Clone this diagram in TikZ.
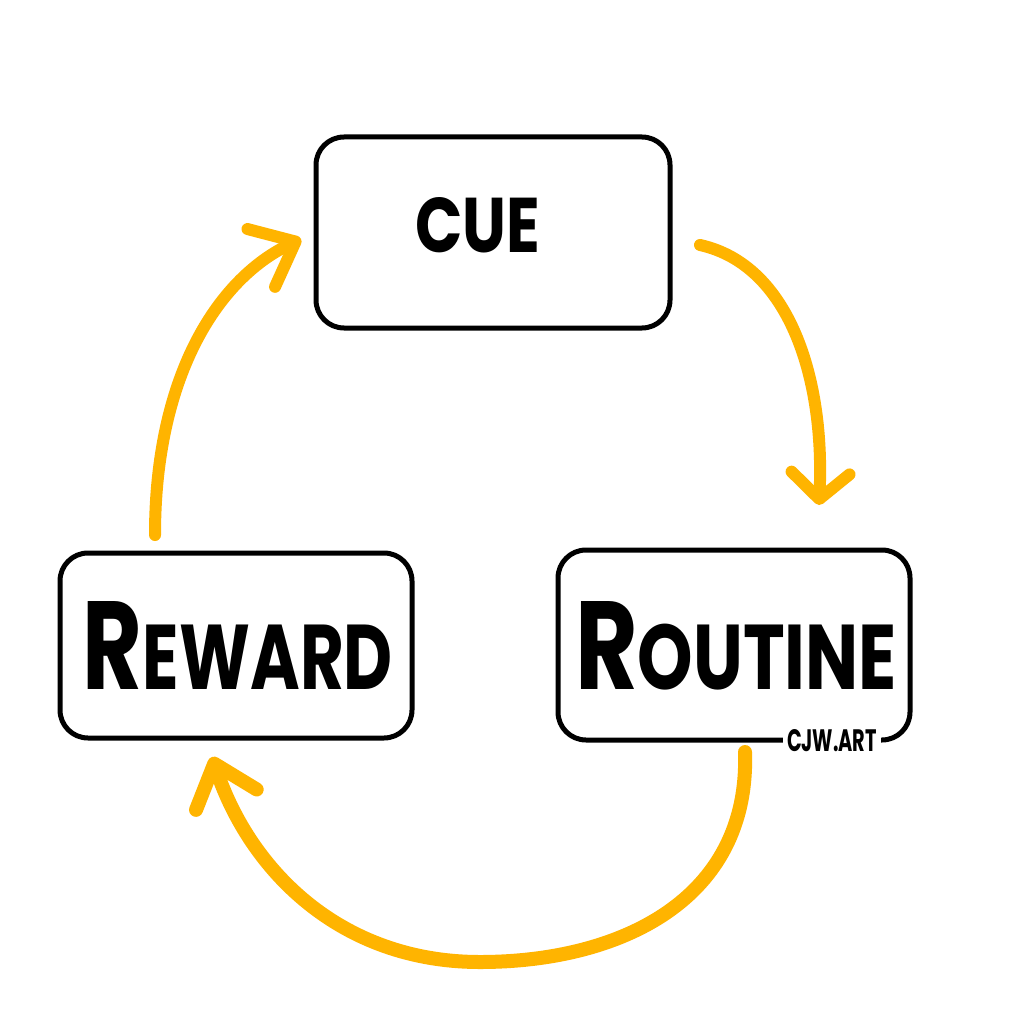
\documentclass[tikz,border=0pt]{standalone}
\usepackage{fontspec}
\newfontfamily\hand{Poppins}
\usetikzlibrary{arrows.meta}
\definecolor{habit}{HTML}{FFB400}
\newlength\px
\setlength\px{0.025cm}
\begin{document}
\begin{tikzpicture}[x=0.025cm,y=-0.025cm,
  box/.style={draw=black, line width=5\px, rounded corners=28\px, inner sep=0pt, fill=white},
  word/.style={inner sep=0pt, text=black},
  flow/.style={draw=habit, line width=12\px, line cap=round},
  headA/.style={-{Straight Barb[round,length=0.65cm,width=1.45cm]}},
  headB/.style={-{Straight Barb[round,length=0.95cm,width=1.6cm]}}]
\useasboundingbox[fill=white] (0,0) rectangle (1024,1024);
% boxes
\node[box, minimum width=354\px, minimum height=191\px] (cue) at (493,232.5) {};
\node[box, minimum width=352\px, minimum height=185\px] (reward) at (236,645.5) {};
\node[box, minimum width=352\px, minimum height=190\px] (routine) at (734,645) {};
% labels
\node[word] (cuetext) at (478,225) {\resizebox{125\px}{55\px}{\hand\bfseries CUE}};
\node[word] (rewardtext) at (238,645) {\resizebox{310\px}{88\px}{\hand\bfseries\fontsize{90}{90}\selectfont R\fontsize{66}{66}\selectfont EWARD}};
\node[word] (routinetext) at (736,646) {\resizebox{322\px}{88\px}{\hand\bfseries\fontsize{90}{90}\selectfont R\fontsize{66}{66}\selectfont OUTINE}};
\node[fill=white, inner xsep=4\px, inner ysep=2\px] (sig) at (832,741) {\resizebox{90\px}{22\px}{\hand\bfseries CJW.ART}};
% arrow coordinates
\coordinate (a1s) at (700,245);
\coordinate (a1e) at (819,505);
\coordinate (a2s) at (745,752);
\coordinate (a2m) at (480,962);
\coordinate (a2e) at (212,757);
\coordinate (a3s) at (155,535);
\coordinate (a3e) at (301,239);
% arrows
\draw[flow, headA] (a1s) .. controls (790,265) and (825,380) .. (a1e);
\draw[flow, line width=14\px, headB] (a2s) .. controls (750,900) and (620,962) .. (a2m)
                         .. controls (340,962) and (250,870) .. (a2e);
\draw[flow, headB] (a3s) .. controls (155,380) and (215,280) .. (a3e);
\end{tikzpicture}
\end{document}
